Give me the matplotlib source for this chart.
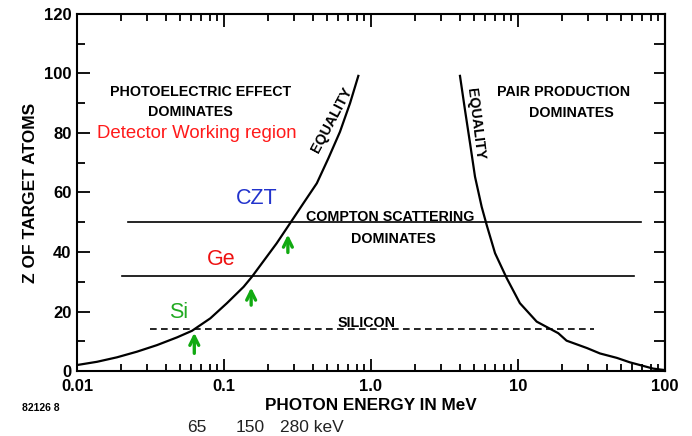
import numpy as np
import matplotlib
matplotlib.use('Agg')
import matplotlib.pyplot as plt
import matplotlib.transforms as mtransforms
from matplotlib.ticker import FixedLocator, LogLocator, NullFormatter

plt.rcParams['font.family'] = ['Liberation Sans', 'DejaVu Sans']

# equality curve: photoelectric = compton
pe_energy = [0.0100, 0.0137, 0.0187, 0.0256, 0.035, 0.0479, 0.0605, 0.0807, 0.1047, 0.136,
             0.155, 0.188, 0.228, 0.281, 0.347, 0.428, 0.513, 0.615, 0.720, 0.820]
pe_z = [2.0, 3.1, 4.6, 6.5, 8.7, 11.3, 13.5, 17.7, 22.8, 28.3,
        31.7, 37.3, 42.9, 49.6, 56.4, 63.1, 71.5, 80.4, 90.0, 99.2]

# equality curve: compton = pair production
pp_energy = [4.03, 4.36, 4.72, 5.10, 5.66, 6.12, 6.98, 8.38, 10.3, 13.4,
             18.8, 21.4, 29.5, 36.1, 47.1, 57.8, 67.6, 83.2, 100.0]
pp_z = [99.2, 87.7, 76.5, 65.3, 55.2, 49.1, 39.6, 31.2, 22.8, 16.6,
        12.7, 10.2, 7.7, 5.9, 4.4, 2.9, 2.0, 0.8, 0.3]

# detector materials: Z and horizontal extent of the line
mat_names = ['CZT', 'Ge', 'Si']
mat_z = [50, 32, 14]
mat_xmin = [0.0222, 0.0202, 0.0314]
mat_xmax = [69, 62, 33]
mat_colors = ['#2233cc', '#ee1111', '#22aa22']
mat_label_x = [0.1675, 0.0955, 0.0492]
mat_label_y = [58, 37.6, 19.7]

# arrows at the crossing energies
arrow_x = [0.0628, 0.153, 0.272]
arrow_y0 = [5.0, 21.2, 38.9]
arrow_y1 = [13.8, 29.0, 46.8]
kev_marks = [65, 150, 280]

fig = plt.figure(figsize=(6.92, 4.36), dpi=100)
ax = fig.add_axes([77/692, 1 - 371/436, (665 - 77)/692, (371 - 14)/436])

ax.plot(pe_energy, pe_z, color='black', lw=1.6)
ax.plot(pp_energy, pp_z, color='black', lw=1.6)

for i in range(3):
    ls = '-' if i < 2 else (0, (4, 2.6))
    ax.plot([mat_xmin[i], mat_xmax[i]], [mat_z[i], mat_z[i]], color='black', lw=1.2, linestyle=ls)
    ax.text(mat_label_x[i], mat_label_y[i], mat_names[i], color=mat_colors[i],
            fontsize=15.5, ha='center', va='center')

for x, y0, y1 in zip(arrow_x, arrow_y0, arrow_y1):
    ax.annotate('', xy=(x, y1), xytext=(x, y0),
                arrowprops=dict(arrowstyle='->', color='#11aa11', lw=2.4, mutation_scale=16))

bold = dict(fontweight='bold', fontsize=10.3, ha='center', va='center')
ax.text(0.069, 93.7, 'PHOTOELECTRIC EFFECT', **bold)
ax.text(0.059, 87.2, 'DOMINATES', **bold)
ax.text(0.0649, 79.9, 'Detector Working region', color='#ff1a1a', fontsize=13.4,
        ha='center', va='center')
ax.text(0.543, 84.4, 'EQUALITY', rotation=62, **bold)
ax.text(5.10, 83, 'EQUALITY', rotation=-83, **bold)
ax.text(20.3, 93.7, 'PAIR PRODUCTION', **bold)
ax.text(22.9, 86.6, 'DOMINATES', **bold)
ax.text(1.346, 51.8, 'COMPTON SCATTERING', **bold)
ax.text(1.413, 44.4, 'DOMINATES', **bold)
ax.text(0.94, 16.3, 'SILICON', **bold)

ax.set_xscale('log')
ax.set_xlim(0.01, 100)
ax.set_ylim(0, 120)

ax.xaxis.set_major_locator(FixedLocator([0.01, 0.1, 1, 10, 100]))
ax.set_xticklabels(['0.01', '0.1', '1.0', '10', '100'])
ax.xaxis.set_minor_locator(LogLocator(base=10, subs=np.arange(2, 10)))
ax.xaxis.set_minor_formatter(NullFormatter())
ax.set_yticks(range(0, 121, 20))
ax.set_yticks(range(10, 120, 20), minor=True)

ax.tick_params(which='both', direction='in', width=1.3, labelsize=12, top=True)
ax.tick_params(axis='x', which='major', length=9, pad=6)
ax.tick_params(axis='x', which='minor', length=5)
ax.tick_params(axis='y', which='major', length=9, pad=4)
ax.tick_params(axis='y', which='minor', length=6)
for lab in ax.get_xticklabels() + ax.get_yticklabels():
    lab.set_fontweight('bold')

sec = ax.secondary_yaxis('right')
sec.set_yticks(range(10, 120, 10))
sec.tick_params(direction='in', length=8, width=1.3, labelright=False)
sec.spines['right'].set_linewidth(1.5)

for s in ax.spines.values():
    s.set_linewidth(1.5)

ax.set_xlabel('PHOTON ENERGY IN MeV', fontweight='bold', fontsize=12.3, labelpad=3)
ax.set_ylabel('Z OF TARGET ATOMS', fontweight='bold', fontsize=12.5, labelpad=4)

fig.text(22/692, 1 - 408/436, '82126 8', fontsize=7.5, fontweight='bold', va='center')

# keV values written under the axis, x in data units, y in figure units
trans = mtransforms.blended_transform_factory(ax.transData, fig.transFigure)
ky = 1 - 432/436
for k in kev_marks[:-1]:
    fig.text(k / 1000, ky, str(k), transform=trans, ha='center', va='baseline',
             fontsize=12.5, color='#222222')
shifted = mtransforms.offset_copy(trans, fig=fig, x=-10, y=0, units='dots')
fig.text(kev_marks[-1] / 1000, ky, str(kev_marks[-1]) + ' keV', transform=shifted,
         ha='left', va='baseline', fontsize=12.5, color='#222222')

fig.savefig('out.png', dpi=100)
